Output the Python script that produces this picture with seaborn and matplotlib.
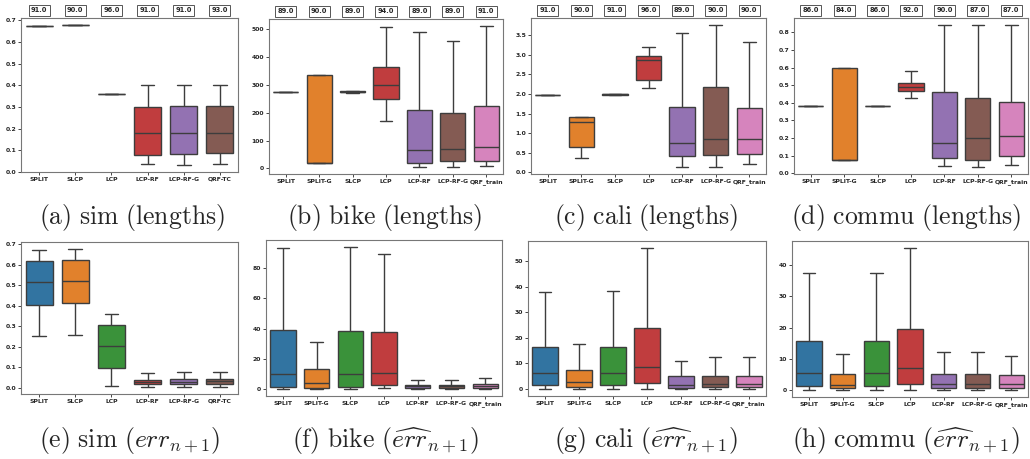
import numpy as np
import pandas as pd
import matplotlib
matplotlib.use("Agg")
import matplotlib.pyplot as plt
import matplotlib.transforms as mtransforms
import seaborn as sns

sns.set_style("white")
plt.rcParams["mathtext.fontset"] = "cm"
plt.rcParams["font.family"] = ["DejaVu Sans"]

# ---------------- data (five-number summaries: min, q1, median, q3, max) ----------------
cats_sim = ["SPLIT", "SLCP", "LCP", "LCP-RF", "LCP-RF-G", "QRF-TC"]
cats_real = ["SPLIT", "SPLIT-G", "SLCP", "LCP", "LCP-RF", "LCP-RF-G", "QRF_train"]

# (a) sim lengths
sim_len = [
    [0.671, 0.671, 0.671, 0.671, 0.671],
    [0.677, 0.677, 0.677, 0.677, 0.677],
    [0.360, 0.360, 0.360, 0.360, 0.360],
    [0.035, 0.080, 0.180, 0.300, 0.403],
    [0.032, 0.085, 0.180, 0.305, 0.403],
    [0.038, 0.087, 0.180, 0.305, 0.400],
]
sim_len_cov = [91.0, 90.0, 96.0, 91.0, 91.0, 93.0]

# (b) bike lengths
bike_len = [
    [276, 276, 276, 276, 276],
    [18, 18, 18, 335, 335],
    [271, 273, 275, 278, 279],
    [170, 250, 300, 366, 507],
    [5, 20, 66, 209, 489],
    [5, 25, 70, 199, 458],
    [7, 28, 76, 223, 512],
]
bike_len_cov = [89.0, 90.0, 89.0, 94.0, 89.0, 89.0, 91.0]

# (c) cali lengths
cali_len = [
    [1.98, 1.98, 1.98, 1.98, 1.98],
    [0.38, 0.66, 1.29, 1.41, 1.41],
    [1.98, 1.985, 1.99, 1.995, 2.0],
    [2.15, 2.37, 2.87, 2.97, 3.19],
    [0.15, 0.41, 0.74, 1.68, 3.55],
    [0.14, 0.44, 0.84, 2.18, 3.76],
    [0.21, 0.48, 0.84, 1.65, 3.34],
]
cali_len_cov = [91.0, 90.0, 91.0, 96.0, 89.0, 90.0, 90.0]

# (d) commu lengths
commu_len = [
    [0.382, 0.382, 0.382, 0.382, 0.382],
    [0.076, 0.076, 0.076, 0.600, 0.600],
    [0.382, 0.382, 0.382, 0.382, 0.382],
    [0.429, 0.465, 0.488, 0.510, 0.582],
    [0.043, 0.089, 0.170, 0.461, 0.841],
    [0.036, 0.078, 0.202, 0.429, 0.841],
    [0.045, 0.096, 0.210, 0.406, 0.841],
]
commu_len_cov = [86.0, 84.0, 86.0, 92.0, 90.0, 87.0, 87.0]

# (e) sim err
sim_err = [
    [0.250, 0.405, 0.515, 0.619, 0.670],
    [0.258, 0.412, 0.522, 0.622, 0.677],
    [0.005, 0.094, 0.205, 0.307, 0.360],
    [0.002, 0.016, 0.027, 0.039, 0.071],
    [0.002, 0.015, 0.028, 0.040, 0.075],
    [0.003, 0.018, 0.030, 0.043, 0.077],
]

# (f) bike err
bike_err = [
    [0.2, 1.5, 9.6, 38.9, 93.6],
    [0.1, 0.9, 3.9, 12.9, 31.3],
    [0.2, 1.5, 9.6, 38.5, 94.0],
    [0.3, 2.4, 10.5, 37.8, 89.2],
    [0.0, 0.5, 1.8, 2.8, 5.7],
    [0.0, 0.4, 1.6, 2.7, 6.0],
    [0.0, 0.6, 2.0, 3.3, 7.4],
]

# (g) cali err
cali_err = [
    [0.2, 1.7, 6.3, 16.4, 38.1],
    [0.1, 0.9, 2.7, 7.4, 17.6],
    [0.2, 1.6, 6.3, 16.5, 38.2],
    [0.2, 2.3, 8.8, 23.7, 55.1],
    [0.05, 0.6, 1.4, 5.0, 11.0],
    [0.05, 0.7, 1.8, 5.2, 12.7],
    [0.1, 0.7, 1.9, 5.2, 12.4],
]

# (h) commu err
commu_err = [
    [0.1, 1.3, 5.6, 15.8, 37.6],
    [0.05, 0.6, 1.7, 5.0, 11.5],
    [0.1, 1.3, 5.6, 15.8, 37.6],
    [0.1, 2.0, 7.2, 19.6, 45.5],
    [0.05, 0.6, 2.1, 5.3, 12.3],
    [0.05, 0.6, 1.9, 5.3, 12.2],
    [0.05, 0.6, 2.1, 4.9, 11.0],
]

captions = [
    r"$\mathrm{(a)\ sim\ (lengths)}$",
    r"$\mathrm{(b)\ bike\ (lengths)}$",
    r"$\mathrm{(c)\ cali\ (lengths)}$",
    r"$\mathrm{(d)\ commu\ (lengths)}$",
    r"$\mathrm{(e)\ sim\ (}err_{n+1}\mathrm{)}$",
    r"$\mathrm{(f)\ bike\ (}\widehat{err}_{n+1}\mathrm{)}$",
    r"$\mathrm{(g)\ cali\ (}\widehat{err}_{n+1}\mathrm{)}$",
    r"$\mathrm{(h)\ commu\ (}\widehat{err}_{n+1}\mathrm{)}$",
]

panels = [
    (cats_sim, sim_len, sim_len_cov),
    (cats_real, bike_len, bike_len_cov),
    (cats_real, cali_len, cali_len_cov),
    (cats_real, commu_len, commu_len_cov),
    (cats_sim, sim_err, None),
    (cats_real, bike_err, None),
    (cats_real, cali_err, None),
    (cats_real, commu_err, None),
]

# axes rectangles in pixels: (left, right, top, bottom)
W, H = 1030, 459
rects_px = [
    (21, 238, 18, 172),
    (269, 503, 19, 174),
    (531, 766, 18, 174),
    (794, 1028, 18, 174),
    (21, 238, 242, 394),
    (266, 502, 240, 396),
    (528, 766, 241, 396),
    (792, 1028, 241, 397),
]
caption_y_px = [218, 218, 218, 218, 441, 441, 441, 441]
caption_x_px = [132, 385, 646, 906, 130, 385, 646, 906]

fig = plt.figure(figsize=(W / 100, H / 100), dpi=100)

for i, ((cats, stats, cov), (l, r, t, b)) in enumerate(zip(panels, rects_px)):
    ax = fig.add_axes([l / W, 1 - b / H, (r - l) / W, (b - t) / H])
    rows = []
    for c, s in zip(cats, stats):
        for v in s:
            rows.append((c, v))
    df = pd.DataFrame(rows, columns=["method", "value"])
    pal = dict(zip(cats, sns.color_palette("tab10", len(cats))))
    sns.boxplot(data=df, x="method", y="value", hue="method", order=cats,
                hue_order=cats, palette=pal, legend=False, whis=(0, 100),
                showfliers=False, width=0.75, linewidth=1.0, ax=ax)
    if i == 0:
        ax.set_ylim(0, 0.71)
    ax.set_xlabel("")
    ax.set_ylabel("")
    ax.tick_params(axis="both", labelsize=4.4, length=2, width=0.6, pad=1.5,
                   left=True, bottom=True)
    for lab in ax.get_xticklabels() + ax.get_yticklabels():
        lab.set_fontweight("bold")
    for sp in ax.spines.values():
        sp.set_color("#777777")
        sp.set_linewidth(0.8)
    if cov is not None:
        trans = mtransforms.blended_transform_factory(ax.transData, ax.transAxes)
        for j, v in enumerate(cov):
            ax.text(j, 1.05, f"{v:.1f}", transform=trans, ha="center", va="center",
                    fontsize=4.8, fontweight="bold",
                    bbox=dict(boxstyle="square,pad=0.35", facecolor="white",
                              edgecolor="#555555", linewidth=0.7))
    fig.text(caption_x_px[i] / W, 1 - caption_y_px[i] / H, captions[i],
             ha="center", va="center", fontsize=18.5)

fig.savefig("out.png", dpi=100)
